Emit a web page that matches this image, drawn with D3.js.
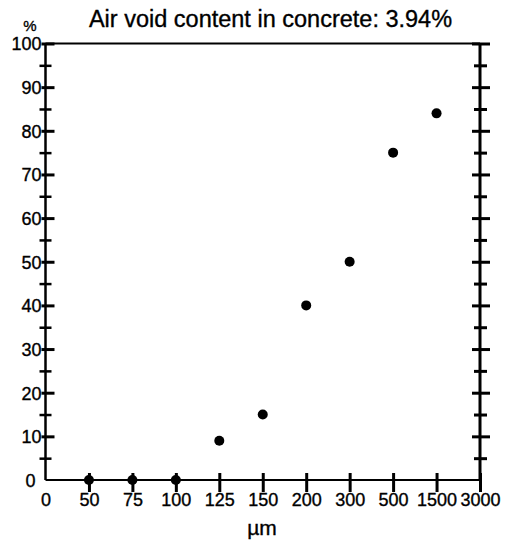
<!DOCTYPE html>
<html>
<head>
<meta charset="utf-8">
<script src="https://cdn.jsdelivr.net/npm/d3@7"></script>
<style>
  html, body { margin: 0; padding: 0; background: #fff; }
  svg { display: block; font-family: "Liberation Sans", Arial, Helvetica, sans-serif; }
  svg text { stroke: #000; stroke-width: 0.35px; }
</style>
</head>
<body>
<div id="chart"></div>
<script>
// ---- data ----
const title = "Air void content in concrete: 3.94%";
const xLabels = ["0", "50", "75", "100", "125", "150", "200", "300", "500", "1500", "3000"];
const sizes = ["50", "75", "100", "125", "150", "200", "300", "500", "1500"];
const percents = [0, 0, 0, 9, 15, 40, 50, 75, 84];
const yMajorTicks = [0, 10, 20, 30, 40, 50, 60, 70, 80, 90, 100];
const yMinorTicks = [5, 15, 25, 35, 45, 55, 65, 75, 85, 95];
const xTitle = "µm";
const yTitle = "%";

// ---- layout ----
const W = 509, H = 550;
const mLeft = 45.5, mRight = 480, mTop = 43.5, mBottom = 480;

const svg = d3.select("#chart").append("svg")
  .attr("width", W).attr("height", H);

const x = d3.scalePoint().domain(xLabels).range([mLeft, mRight]);
const y = d3.scaleLinear().domain([0, 100]).range([mBottom, mTop]);

// top border
svg.append("line")
  .attr("x1", mLeft).attr("x2", mRight)
  .attr("y1", y(100)).attr("y2", y(100))
  .attr("stroke", "#000").attr("stroke-width", 2);

// left axis
const allY = yMajorTicks.concat(yMinorTicks);
const gL = svg.append("g").attr("transform", `translate(${mLeft},0)`)
  .call(d3.axisLeft(y).tickValues(allY)
    .tickFormat(d => yMajorTicks.includes(d) ? String(d) : ""));
gL.select(".domain").attr("stroke-width", 2.5).attr("d", `M0,${y(0)}V${y(100)}`);
gL.selectAll(".tick line")
  .attr("stroke-width", d => yMajorTicks.includes(d) ? 3 : 2.5)
  .attr("x1", d => d === 0 ? 0 : (yMajorTicks.includes(d) ? -4 : -6))
  .attr("x2", d => d === 0 ? 0 : (yMajorTicks.includes(d) ? 9 : 6));
gL.selectAll(".tick text")
  .attr("x", d => d === 0 ? -10 : -4)
  .attr("dy", "0.36em")
  .attr("font-size", 18)
  .attr("font-family", "Liberation Sans, Arial, sans-serif")
  .attr("fill", "#000");

// right axis
const gR = svg.append("g").attr("transform", `translate(${mRight},0)`)
  .call(d3.axisRight(y).tickValues(allY.filter(d => d !== 0)).tickFormat(""));
gR.select(".domain").attr("stroke-width", 3).attr("d", `M0,${y(0)}V${y(100)}`);
gR.selectAll(".tick line")
  .attr("stroke-width", 3)
  .attr("x1", d => yMajorTicks.includes(d) ? -8 : -6)
  .attr("x2", d => yMajorTicks.includes(d) ? 10 : 7);

// bottom axis
const gB = svg.append("g").attr("transform", `translate(0,${mBottom})`)
  .call(d3.axisBottom(x).tickValues(xLabels));
gB.select(".domain").attr("stroke-width", 2).attr("d", `M${mLeft},0H${mRight}`);
gB.selectAll(".tick line")
  .attr("stroke-width", 3)
  .attr("y1", d => d === "0" ? 0 : -7)
  .attr("y2", d => d === "0" ? 0 : 12);
gB.selectAll(".tick text")
  .attr("y", 26).attr("dy", 0)
  .attr("font-size", 18)
  .attr("font-family", "Liberation Sans, Arial, sans-serif")
  .attr("fill", "#000");

// points
svg.append("g").selectAll("circle")
  .data(sizes.map((s, i) => ({ s, v: percents[i] })))
  .join("circle")
  .attr("cx", d => x(d.s))
  .attr("cy", d => y(d.v))
  .attr("r", 5)
  .attr("fill", "#000");

// title
svg.append("text")
  .attr("x", 270.5).attr("y", 27)
  .attr("text-anchor", "middle")
  .attr("font-size", 23.5)
  .attr("fill", "#000")
  .text(title);

// axis titles
svg.append("text")
  .attr("x", 30).attr("y", 31)
  .attr("text-anchor", "middle")
  .attr("font-size", 15)
  .attr("fill", "#000")
  .text(yTitle);

svg.append("text")
  .attr("x", 262).attr("y", 535)
  .attr("text-anchor", "middle")
  .attr("font-size", 21)
  .attr("fill", "#000")
  .text(xTitle);
</script>
</body>
</html>
